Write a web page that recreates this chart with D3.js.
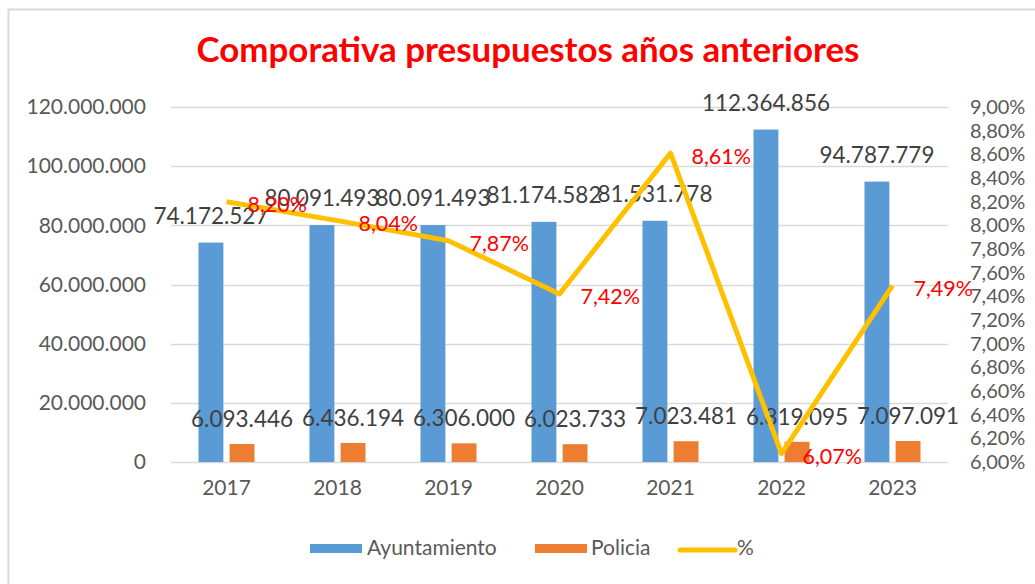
<!DOCTYPE html>
<html><head><meta charset="utf-8">
<script src="https://cdn.jsdelivr.net/npm/d3@7"></script>
<style>
html,body{margin:0;padding:0;background:#fff;}
svg{display:block;font-family:Lato, "Open Sans", sans-serif;}
</style></head>
<body>
<svg id="chart" width="1035" height="584"></svg>
<script>
const years = ["2017","2018","2019","2020","2021","2022","2023"];
const ayuntamiento = [74172527, 80091493, 80091493, 81174582, 81531778, 112364856, 94787779];
const policia = [6093446, 6436194, 6306000, 6023733, 7023481, 6819095, 7097091];
const pct = [8.20, 8.04, 7.87, 7.42, 8.61, 6.07, 7.49];
const leftTicks = [0, 20000000, 40000000, 60000000, 80000000, 100000000, 120000000];
const rightTicks = [6.0,6.2,6.4,6.6,6.8,7.0,7.2,7.4,7.6,7.8,8.0,8.2,8.4,8.6,8.8,9.0];
const seriesNames = ["Ayuntamiento","Policia","%"];
const colors = {Ayuntamiento:"#5B9BD5", Policia:"#ED7D31", "%":"#FFC000"};
const titleText = "Comporativa presupuestos años anteriores";

const svg = d3.select("#chart");
const W = 1035, H = 584;
const plot = {left:171, right:948, top:107, bottom:462};

// border
svg.append("rect").attr("x",8.5).attr("y",9.5).attr("width",1100).attr("height",700)
  .attr("fill","#fff").attr("stroke","#D9D9D9").attr("stroke-width",2);

const fmtNum = v => d3.format(",")(v).replace(/,/g,".");
const fmtPct = v => v.toFixed(2).replace(".",",") + "%";

const x0 = d3.scaleBand().domain(years).range([plot.left, plot.right]).padding(0);
const x1 = d3.scaleBand().domain(["Ayuntamiento","Policia"])
  .range([x0.bandwidth()/2 - 28, x0.bandwidth()/2 + 28]).paddingInner(0.2);
const yL = d3.scaleLinear().domain([0,120000000]).range([plot.bottom, plot.top]);
const yR = d3.scaleLinear().domain([6,9]).range([plot.bottom, plot.top]);

// title
const title = svg.append("text").attr("x", 528).attr("y", 62).attr("text-anchor","middle")
  .attr("fill","#FF0000").attr("font-weight","bold").attr("font-size",30).text(titleText);
const tl = title.node().getComputedTextLength();
title.attr("font-size", 30 * 663 / tl);

// gridlines
svg.append("g").selectAll("line").data(leftTicks).join("line")
  .attr("x1",plot.left).attr("x2",plot.right)
  .attr("y1",d=>Math.round(yL(d))+0.5).attr("y2",d=>Math.round(yL(d))+0.5)
  .attr("stroke","#D9D9D9").attr("stroke-width",1.5);

// left axis
const gL = svg.append("g").attr("transform",`translate(${plot.left},0)`)
  .call(d3.axisLeft(yL).tickValues(leftTicks).tickSize(0).tickPadding(25).tickFormat(fmtNum));
gL.select(".domain").remove();
gL.selectAll("text").attr("fill","#595959").attr("font-size",21).attr("font-family","Lato");

// right axis
const gR = svg.append("g").attr("transform",`translate(${plot.right},0)`)
  .call(d3.axisRight(yR).tickValues(rightTicks).tickSize(0).tickPadding(22).tickFormat(fmtPct));
gR.select(".domain").remove();
gR.selectAll("text").attr("fill","#595959").attr("font-size",20).attr("font-family","Lato");

// bottom axis
const gB = svg.append("g").attr("transform",`translate(0,${plot.bottom})`)
  .call(d3.axisBottom(x0).tickSize(0).tickPadding(18));
gB.select(".domain").remove();
gB.selectAll("text").attr("fill","#595959").attr("font-size",21).attr("font-family","Lato");

// bars
const rows = years.map((y,i)=>({year:y, Ayuntamiento:ayuntamiento[i], Policia:policia[i], pct:pct[i]}));
const g = svg.append("g");
const groups = g.selectAll("g").data(rows).join("g").attr("transform",d=>`translate(${x0(d.year)},0)`);
groups.selectAll("rect").data(d=>["Ayuntamiento","Policia"].map(k=>({k, v:d[k]}))).join("rect")
  .attr("x",d=>x1(d.k)).attr("width",x1.bandwidth())
  .attr("y",d=>yL(d.v)).attr("height",d=>plot.bottom - yL(d.v))
  .attr("fill",d=>colors[d.k]);

// bar labels
groups.selectAll("text.bl").data(d=>["Ayuntamiento","Policia"].map(k=>({k, v:d[k]}))).join("text")
  .attr("class","bl")
  .attr("x",d=>x1(d.k)+x1.bandwidth()/2)
  .attr("y",d=>yL(d.v) - (d.k==="Ayuntamiento"?19:17))
  .attr("text-anchor","middle").attr("font-size",22.5).attr("fill","#404040")
  .text(d=>fmtNum(d.v));

// line
const cx = d => x0(d.year) + x0.bandwidth()/2;
svg.append("path").datum(rows)
  .attr("d", d3.line().x(cx).y(d=>yR(d.pct)))
  .attr("fill","none").attr("stroke",colors["%"]).attr("stroke-width",5)
  .attr("stroke-linejoin","round");

// pct labels
svg.append("g").selectAll("text").data(rows).join("text")
  .attr("x",d=>cx(d)+21).attr("y",d=>yR(d.pct)+3).attr("dy","0.35em")
  .attr("font-size",21.5).attr("fill","#FF0000").text(d=>fmtPct(d.pct));

// legend
const leg = svg.append("g");
const legItems = [
  {name:"Ayuntamiento", x:310, tx:367, type:"rect"},
  {name:"Policia", x:535, tx:591, type:"rect"},
  {name:"%", x:680, tx:737, type:"line"}
];
legItems.forEach(it=>{
  if(it.type==="rect"){
    leg.append("rect").attr("x",it.x).attr("y",544).attr("width",52).attr("height",9).attr("fill",colors[it.name]);
  } else {
    leg.append("line").attr("x1",it.x).attr("x2",it.x+55).attr("y1",550).attr("y2",550)
      .attr("stroke",colors[it.name]).attr("stroke-width",5).attr("stroke-linecap","round");
  }
  leg.append("text").attr("x",it.tx).attr("y",555).attr("font-size",21).attr("fill","#595959").text(it.name);
});
</script>
</body></html>
